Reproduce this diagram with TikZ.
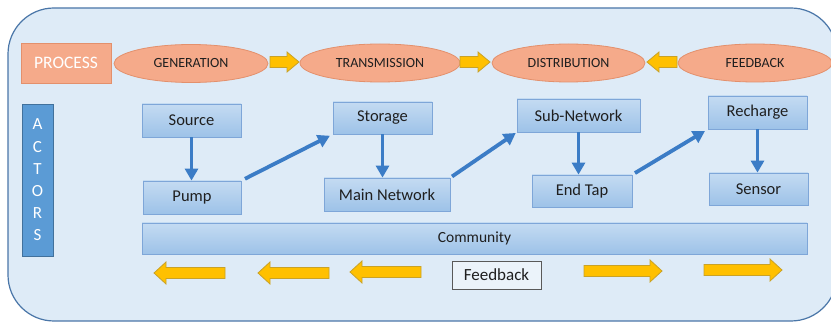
\documentclass[tikz,border=0pt]{standalone}
\usepackage{fontspec}
\setmainfont{Carlito}
\usetikzlibrary{arrows.meta,shapes.geometric}
\definecolor{bgfill}{HTML}{DEEBF7}
\definecolor{bgline}{HTML}{4A76A8}
\definecolor{procfill}{HTML}{F5AA8A}
\definecolor{procline}{HTML}{E3906C}
\definecolor{actfill}{HTML}{5B9BD5}
\definecolor{actline}{HTML}{41719C}
\definecolor{boxtop}{HTML}{C4DBF2}
\definecolor{boxbot}{HTML}{9DC2E8}
\definecolor{boxline}{HTML}{7EA6D8}
\definecolor{yfill}{HTML}{FFC000}
\definecolor{yline}{HTML}{C9A227}
\definecolor{conn}{HTML}{3B7CC6}
\definecolor{txt}{HTML}{1F1F1F}
\newcommand{\yarrowR}[3]{% x1 x2 y : pointing right
  \filldraw[fill=yfill,draw=yline,line width=0.8pt,line join=miter]
    (#1,#3-5.5) -- (#2-12,#3-5.5) -- (#2-12,#3-11) -- (#2,#3) -- (#2-12,#3+11)
    -- (#2-12,#3+5.5) -- (#1,#3+5.5) -- cycle;}
\newcommand{\yarrowL}[3]{% x1 x2 y : pointing left (tip at x1)
  \filldraw[fill=yfill,draw=yline,line width=0.8pt,line join=miter]
    (#2,#3-5.5) -- (#1+12,#3-5.5) -- (#1+12,#3-11) -- (#1,#3) -- (#1+12,#3+11)
    -- (#1+12,#3+5.5) -- (#2,#3+5.5) -- cycle;}
\newcommand{\yarrowRs}[3]{%
  \filldraw[fill=yfill,draw=yline,line width=0.8pt,line join=miter]
    (#1,#3-5.5) -- (#2-12,#3-5.5) -- (#2-12,#3-10) -- (#2,#3) -- (#2-12,#3+10)
    -- (#2-12,#3+5.5) -- (#1,#3+5.5) -- cycle;}
\newcommand{\yarrowLs}[3]{%
  \filldraw[fill=yfill,draw=yline,line width=0.8pt,line join=miter]
    (#2,#3-5.5) -- (#1+12,#3-5.5) -- (#1+12,#3-10) -- (#1,#3) -- (#1+12,#3+10)
    -- (#1+12,#3+5.5) -- (#2,#3+5.5) -- cycle;}
\begin{document}
\begin{tikzpicture}[x=1pt,y=-1pt,
  bluebox/.style={draw=boxline,line width=0.8pt,top color=boxtop,bottom color=boxbot,
    text=txt,inner sep=0pt,font=\fontsize{16.5}{18}\selectfont},
  procell/.style={ellipse,draw=procline,line width=0.8pt,fill=procfill,inner sep=0pt,
    text=txt,font=\fontsize{14}{16}\selectfont},
  conarrow/.style={conn,line width=3.8pt,-{Triangle[width=13pt,length=12pt]}}]
\useasboundingbox (0,0) rectangle (831,323);
\fill[white] (0,0) rectangle (831,323);
\draw[bgline,line width=1.2pt,fill=bgfill,rounded corners=46pt] (8,8) rectangle (837,321);
% process row
\node[draw=procline,line width=0.8pt,fill=procfill,minimum width=90pt,minimum height=40pt,
  inner sep=0pt,text=white,font=\fontsize{17.5}{20}\selectfont] (proc) at (66,63) {PROCESS};
\node[procell,minimum width=154pt,minimum height=38pt] (gen) at (191,63.5) {GENERATION};
\node[procell,minimum width=160pt,minimum height=38pt] (trans) at (380,63) {TRANSMISSION};
\node[procell,minimum width=153pt,minimum height=38pt] (dist) at (568.5,63) {DISTRIBUTION};
\node[procell,minimum width=154pt,minimum height=38pt] (feed) at (755,63) {FEEDBACK};
\yarrowRs{270}{299}{62}
\yarrowRs{460}{490}{62}
\yarrowLs{647}{677}{62}
% actors
\node[draw=actline,line width=0.8pt,fill=actfill,minimum width=31pt,minimum height=152pt,
  inner sep=0pt,text=white,align=center,font=\fontsize{17}{22.2}\selectfont] (act) at (37.5,180)
  {A\\C\\T\\O\\R\\S};
% boxes
\node[bluebox,minimum width=99pt,minimum height=33pt] (src) at (191.5,120.5) {Source};
\node[bluebox,minimum width=98pt,minimum height=33pt] (pump) at (192,197.5) {Pump};
\node[bluebox,minimum width=99pt,minimum height=32pt] (stor) at (382.5,118) {Storage};
\node[bluebox,minimum width=126pt,minimum height=33pt] (mainnet) at (387,194.5) {Main Network};
\node[bluebox,minimum width=123pt,minimum height=33pt] (subnet) at (578.5,115.5) {Sub-Network};
\node[bluebox,minimum width=100pt,minimum height=32pt] (endtap) at (582,191) {End Tap};
\node[bluebox,minimum width=99pt,minimum height=33pt] (rech) at (757.5,112.5) {Recharge};
\node[bluebox,minimum width=99pt,minimum height=32pt] (sensor) at (758.5,189) {Sensor};
\node[bluebox,minimum width=665pt,minimum height=31pt,font=\fontsize{15.5}{17}\selectfont] (comm) at (474.5,238.5) {Community};
\node[draw=black!65,line width=0.8pt,fill=bgfill!60!white,minimum width=89pt,minimum height=28pt,
  inner sep=0pt,text=txt,font=\fontsize{17}{19}\selectfont] (fb) at (496.5,275) {Feedback};
% connectors
\draw[conarrow] (src.south) -- (src.south |- pump.north);
\draw[conarrow,shorten <=4pt,shorten >=3pt] (pump.north east) -- (stor.south west);
\draw[conarrow] (stor.south) -- (stor.south |- mainnet.north);
\draw[conarrow,shorten <=2pt,shorten >=1pt] (mainnet.north east) -- (subnet.south west);
\draw[conarrow] (subnet.south) -- (subnet.south |- endtap.north);
\draw[conarrow,shorten <=3pt,shorten >=3pt] (endtap.north east) -- (rech.south west);
\draw[conarrow] (rech.south) -- (rech.south |- sensor.north);
% bottom feedback arrows
\yarrowL{154}{225}{273}
\yarrowL{258}{329}{273}
\yarrowL{350}{421}{272}
\yarrowR{584}{662}{271}
\yarrowR{704}{782}{270}
\end{tikzpicture}
\end{document}
